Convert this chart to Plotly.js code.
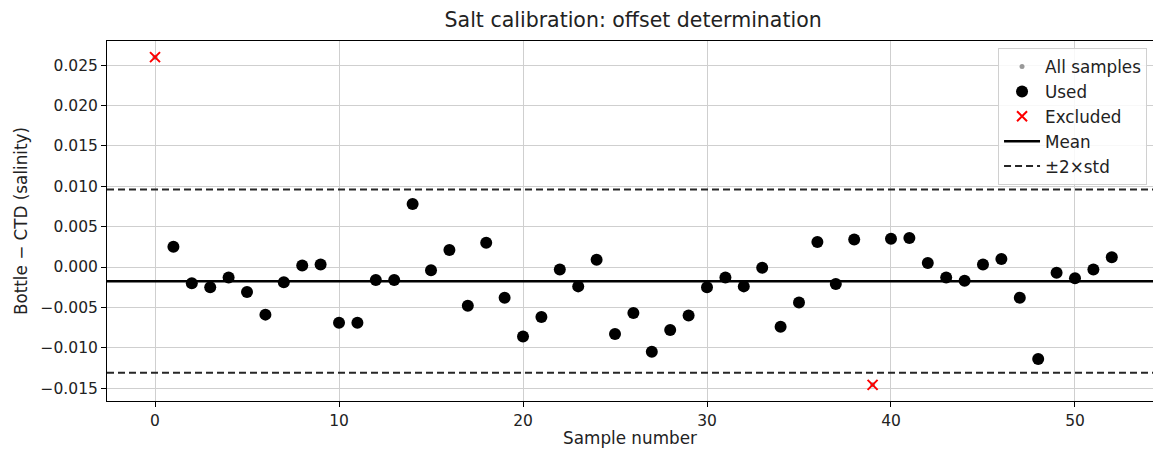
<!DOCTYPE html>
<html>
<head>
<meta charset="utf-8">
<script src="https://cdn.plot.ly/plotly-3.0.1.min.js"></script>
<style>html,body{margin:0;padding:0;background:#fff;}#chart{width:1153px;height:450px;}</style>
</head>
<body>
<div id="chart"></div>
<script>
// Sample numbers and bottle - CTD salinity differences
const sampleNumbers = [0,1,2,3,4,5,6,7,8,9,10,11,12,13,14,15,16,17,18,19,20,21,22,23,24,25,26,27,28,29,30,31,32,33,34,35,36,37,38,39,40,41,42,43,44,45,46,47,48,49,50,51,52];
const differences = [0.0260,0.0025,-0.0020,-0.0025,-0.0013,-0.0031,-0.0059,-0.0019,0.0002,0.0003,-0.0069,-0.0069,-0.0016,-0.0016,0.0078,-0.0004,0.0021,-0.0048,0.0030,-0.0038,-0.0086,-0.0062,-0.0003,-0.0024,0.0009,-0.0083,-0.0057,-0.0105,-0.0078,-0.0060,-0.0025,-0.0013,-0.0024,-0.0001,-0.0074,-0.0044,0.0031,-0.0021,0.0034,-0.0146,0.0035,0.0036,0.0005,-0.0013,-0.0017,0.0003,0.0010,-0.0038,-0.0114,-0.0007,-0.0014,-0.0003,0.0012];
const excludedSamples = [0, 39];
const meanOffset = -0.00176;
const stdOffset = 0.005675;
const yTickValues = [-0.015,-0.010,-0.005,0.000,0.005,0.010,0.015,0.020,0.025];
const yTickLabels = ["\u22120.015","\u22120.010","\u22120.005","0.000","0.005","0.010","0.015","0.020","0.025"];
const xTickValues = [0,10,20,30,40,50];
const xRange = [-2.61, 54.24];
const yRange = [-0.0166, 0.0280];

const usedX = [], usedY = [], exclX = [], exclY = [];
sampleNumbers.forEach((s, i) => {
  if (excludedSamples.includes(s)) { exclX.push(s); exclY.push(differences[i]); }
  else { usedX.push(s); usedY.push(differences[i]); }
});
const upper = meanOffset + 2 * stdOffset;
const lower = meanOffset - 2 * stdOffset;

const traces = [
  {x: sampleNumbers, y: differences, type: 'scatter', mode: 'markers', name: 'All samples',
   marker: {color: 'rgba(128,128,128,0.8)', size: 5}},
  {x: usedX, y: usedY, type: 'scatter', mode: 'markers', name: 'Used',
   marker: {color: '#000', size: 12}},
  {x: exclX, y: exclY, type: 'scatter', mode: 'markers', name: 'Excluded',
   marker: {symbol: 'x-thin-open', color: 'red', size: 10, line: {color: 'red', width: 2}}},
  {x: [xRange[0], xRange[1]], y: [meanOffset, meanOffset], type: 'scatter', mode: 'lines', name: 'Mean',
   line: {color: '#000', width: 2.5}},
  {x: [xRange[0], xRange[1], null, xRange[0], xRange[1]], y: [upper, upper, null, lower, lower],
   type: 'scatter', mode: 'lines', name: '\u00b12\u00d7std', connectgaps: false,
   line: {color: '#262626', width: 2, dash: '7px,4px'}}
];

const font = {family: 'DejaVu Sans, sans-serif', color: '#222'};
const layout = {
  width: 1153, height: 450,
  margin: {l: 107, r: 0, t: 41, b: 49},
  paper_bgcolor: '#fff', plot_bgcolor: '#fff',
  font: Object.assign({size: 15.5}, font),
  title: {text: 'Salt calibration: offset determination', font: Object.assign({size: 20.5}, font),
          xref: 'paper', x: 0.503, xanchor: 'center', yref: 'container', y: 0.955, yanchor: 'middle'},
  xaxis: {range: xRange, tickvals: xTickValues, showgrid: true, gridcolor: '#cfcfcf', gridwidth: 1,
          zeroline: false, showline: true, linecolor: '#000', linewidth: 1, mirror: true,
          ticks: 'outside', ticklen: 5, tickcolor: '#000', tickfont: Object.assign({size: 15.5}, font),
          title: {text: 'Sample number', font: Object.assign({size: 16.8}, font), standoff: 3}},
  yaxis: {range: yRange, tickvals: yTickValues, ticktext: yTickLabels, showgrid: true, gridcolor: '#cfcfcf', gridwidth: 1,
          zeroline: false, showline: true, linecolor: '#000', linewidth: 1,
          ticks: 'outside', ticklen: 5, tickcolor: '#000', tickfont: Object.assign({size: 15.5}, font),
          title: {text: 'Bottle \u2212 CTD (salinity)', font: Object.assign({size: 16.8}, font), standoff: 8}},
  showlegend: true,
  legend: {x: 0.9943, xanchor: 'right', y: 0.98, yanchor: 'top', bgcolor: 'rgba(255,255,255,0.85)',
           bordercolor: '#d0d0d0', borderwidth: 1, font: Object.assign({size: 16.8}, font), itemwidth: 36}
};

Plotly.newPlot('chart', traces, layout, {displayModeBar: false, staticPlot: true});
</script>
</body>
</html>
